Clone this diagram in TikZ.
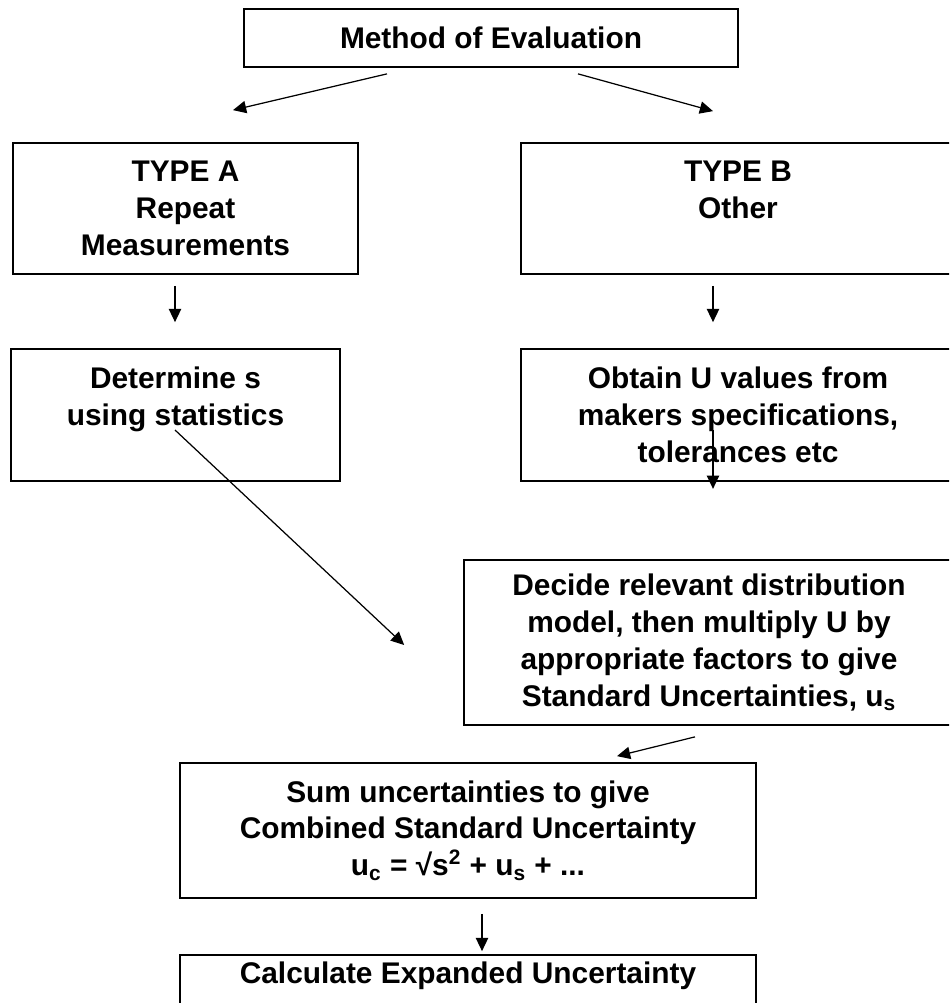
\documentclass[tikz,border=0pt]{standalone}
\usepackage{fontspec}
\setmainfont{Liberation Sans}
\usetikzlibrary{arrows.meta, positioning, calc}

\begin{document}
\begin{tikzpicture}[x=0.02cm, y=-0.02cm,
    font=\fontsize{17}{21}\selectfont\bfseries,
    stepbox/.style={draw, line width=1pt, inner sep=0pt, align=center},
    flow/.style={-{Triangle[length=7.5pt, width=7pt]}, line width=0.7pt}]
      \useasboundingbox (0,0) rectangle (949,1003);
      \clip (0,0) rectangle (949,1003);
      % top row
      \node[stepbox, minimum width=9.88cm, minimum height=1.16cm] (meth) at (491,38) {Method of Evaluation};
      \node[stepbox, minimum width=6.9cm, minimum height=2.62cm] (typeA) at (185.5,208.5)
        {TYPE A\\Repeat\\Measurements};
      \node[stepbox, minimum width=8.68cm, minimum height=2.62cm] (typeB) at (738,208.5)
        {TYPE B\\Other\\\mbox{}};
      % second row
      \node[stepbox, minimum width=6.58cm, minimum height=2.64cm] (detS) at (175.5,415)
        {Determine s\\using statistics\\\mbox{}};
      \node[stepbox, minimum width=8.68cm, minimum height=2.64cm] (obtU) at (738,415)
        {Obtain U values from\\makers specifications,\\tolerances etc};
      \node[stepbox, minimum width=9.8cm, minimum height=3.3cm] (decide) at (709,642.5)
        {Decide relevant distribution\\model, then multiply U by\\appropriate factors to give\\Standard Uncertainties, u\textsubscript{s}};
      % combination
      \node[stepbox, minimum width=11.52cm, minimum height=2.7cm] (sumU) at (468,830.5)
        {Sum uncertainties to give\\Combined Standard Uncertainty\\u\textsubscript{c} = √s\textsuperscript{2} + u\textsubscript{s} + ...};
      \node[stepbox, minimum width=11.52cm, minimum height=2.2cm] (calcU) at (468,1010)
        {Calculate Expanded Uncertainty\\\mbox{}\\\mbox{}};
      % connectors
      \draw[flow] ([shift={(-104,6)}]meth.south) -- ([shift={(47.5,-32)}]typeA.north);
      \draw[flow] ([shift={(87,6)}]meth.south) -- ([shift={(-25,-31)}]typeB.north);
      \draw[flow] ([shift={(-10.5,11)}]typeA.south) -- ([shift={(-0.5,-26)}]detS.north);
      \draw[flow] ([shift={(-25,11)}]typeB.south) -- ([shift={(-25,-26)}]obtU.north);
      \draw[flow] ([shift={(-0.5,15)}]detS.center) -- ([shift={(-59,2.5)}]decide.west);
      \draw[flow] ([shift={(-25,15)}]obtU.center) -- ([shift={(-25,7)}]obtU.south);
      \draw[flow] ([shift={(-14,11)}]decide.south) -- ([shift={(149,-6)}]sumU.north);
      \draw[flow] ([shift={(14,15)}]sumU.south) -- ([shift={(14,-3)}]calcU.north);
    \end{tikzpicture}
\end{document}
